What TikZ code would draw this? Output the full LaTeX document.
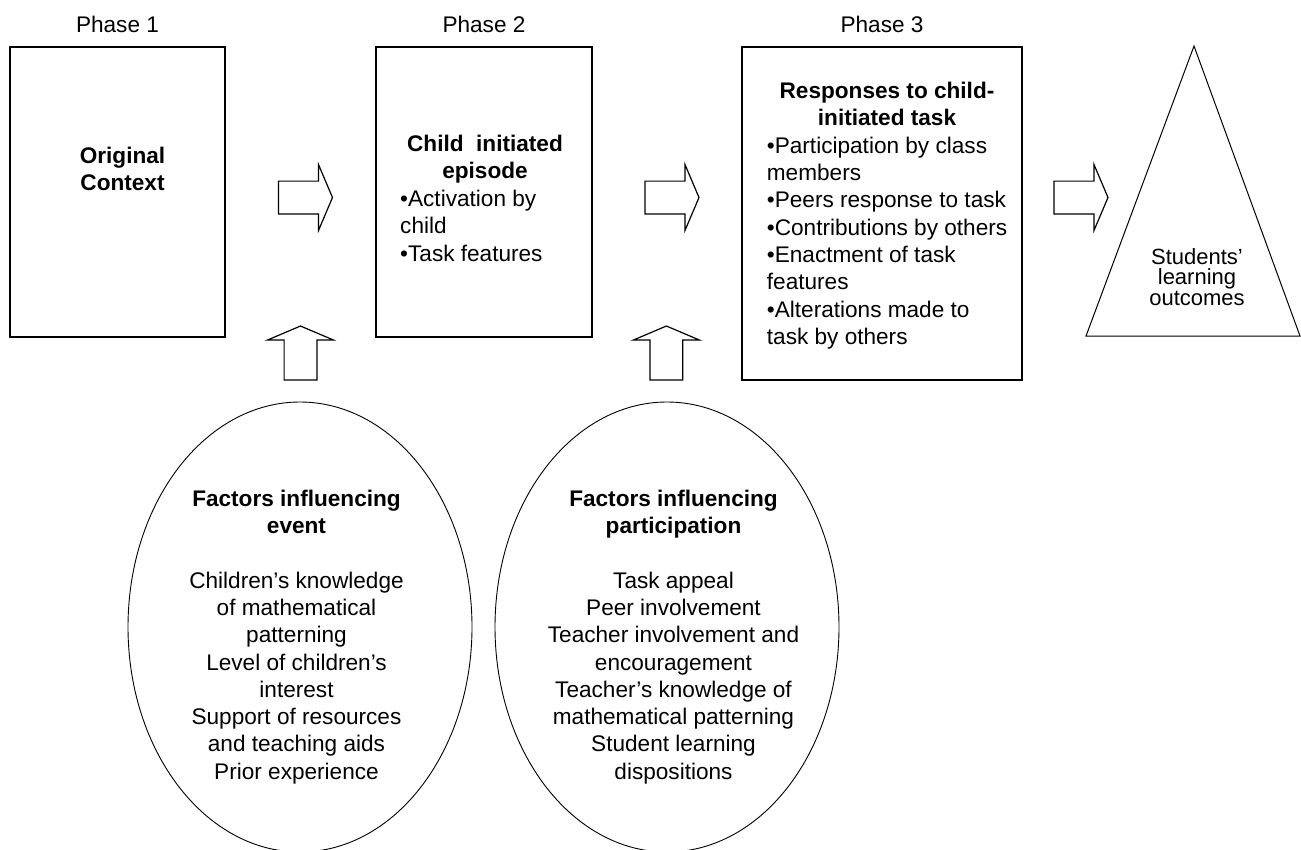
\documentclass[tikz,border=0pt]{standalone}
\usepackage{fontspec}
\setmainfont{Liberation Sans}
\usetikzlibrary{positioning, shapes.geometric, shapes.arrows}

\tikzset{
  phasebox/.style={draw, line width=1.3pt, inner sep=0pt},
  phasename/.style={inner sep=0pt},
  boxtitle/.style={align=center, inner sep=0pt, anchor=north, font=\bfseries},
  boxlist/.style={align=left, inner sep=0pt, anchor=north west},
  factor/.style={draw, ellipse, line width=0.9pt, minimum width=344pt, minimum height=450pt},
  factortext/.style={align=center, inner sep=0pt, anchor=north},
  fatarrow/.style={draw, single arrow, line width=1.2pt, minimum height=54pt, minimum width=65pt,
    single arrow head extend=16.5pt, single arrow tip angle=134, inner xsep=0pt, inner ysep=15.8pt}
}

\begin{document}
\fontsize{22.6}{27.3}\selectfont
\begin{tikzpicture}[x=1pt, y=-1pt]
\useasboundingbox (0,0) rectangle (1301,849);

% the three phases
\node (ctx) [phasebox, minimum width=215pt, minimum height=290pt] at (117.5,192) {};
\node (episode) [phasebox, minimum width=216pt, minimum height=290pt] at (484,192) {};
\node (resp) [phasebox, minimum width=280pt, minimum height=333pt] at (882,213.5) {};

\node [phasename, above=13pt of ctx] {Phase 1};
\node [phasename, above=13pt of episode] {Phase 2};
\node [phasename, above=13pt of resp] {Phase 3};

\node (ctxtitle) [boxtitle] at (122.5,146.7) {Original\\Context};
\node (eptitle) [boxtitle] at (485,135) {Child~ initiated\\episode};
\node (eplist) [boxlist] at (400,190) {•Activation by\\child\\•Task features};
\node (resptitle) [boxtitle] at (887,81.7) {Responses to child-\\initiated task};
\node (resplist) [boxlist] at (766.7,136.7) {•Participation by class\\members\\•Peers response to task\\•Contributions by others\\•Enactment of task\\features\\•Alterations made to\\task by others};

% outcomes
\draw [line width=1pt] (1194,46) coordinate (apex) -- (1300,336) coordinate (baseR)
  -- (1086,336) coordinate (baseL) -- cycle;
\node (outcome) [factortext, font=\fontsize{22}{20.5}\selectfont] at (1197,248) {Students’\\learning\\outcomes};

% factors
\node (evtfactors) [factor] at (300,627) {};
\node (partfactors) [factor] at (667,627) {};
\node (evttext) [factortext] at (296.5,489.7) {\textbf{Factors influencing}\\\textbf{event}\\[27.3pt]Children’s knowledge\\of mathematical\\patterning\\Level of children’s\\interest\\Support of resources\\and teaching aids\\Prior experience};
\node (parttext) [factortext] at (673.5,489.7) {\textbf{Factors influencing}\\\textbf{participation}\\[27.3pt]Task appeal\\Peer involvement\\Teacher involvement and\\encouragement\\Teacher’s knowledge of\\mathematical patterning\\Student learning\\dispositions};

% block arrows
\node (arr1) [fatarrow] at (302,197.5) {};
\node (arr2) [fatarrow] at (668.5,197.5) {};
\node (arr3) [fatarrow] at (1077.5,197.5) {};
\node (up1) [fatarrow, rotate=90] at (300.5,356.5) {};
\node (up2) [fatarrow, rotate=90] at (666.4,356.5) {};
\end{tikzpicture}
\end{document}
